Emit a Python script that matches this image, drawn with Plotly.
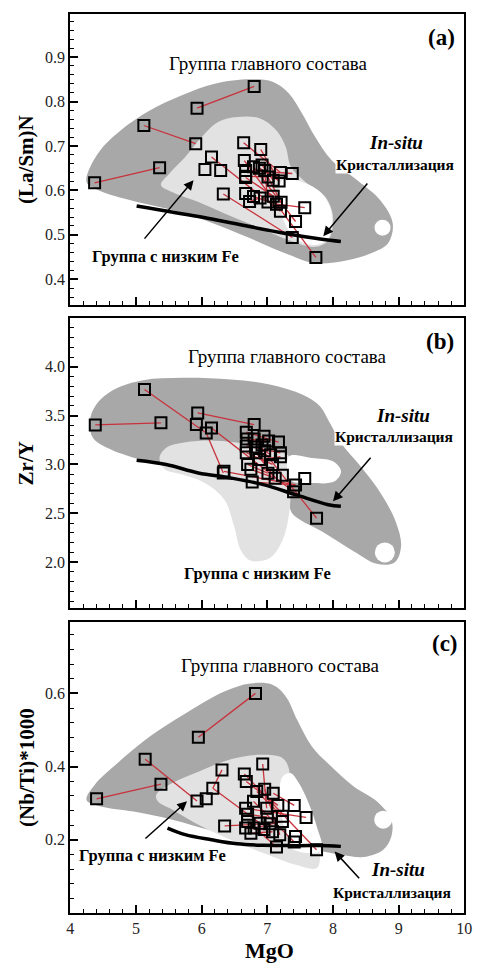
import plotly.graph_objects as go

# ---------------- data ----------------
# Panel (a): MgO vs (La/Sm)N
mgo_a = [4.37, 5.36, 5.12, 5.91, 5.93, 6.80, 6.15, 6.05, 6.29, 6.33, 6.64, 6.90, 6.65, 6.67, 6.67,
         6.79, 6.92, 6.96, 7.01, 7.09, 7.20, 7.18, 7.38, 6.67, 6.73, 6.79, 6.89, 7.01, 7.09, 7.14,
         7.21, 7.20, 7.57, 7.43, 7.38, 7.74, 6.88, 6.67]
lasm_a = [0.617, 0.651, 0.746, 0.705, 0.785, 0.834, 0.675, 0.647, 0.645, 0.592, 0.707, 0.692, 0.667,
          0.645, 0.629, 0.653, 0.657, 0.645, 0.630, 0.623, 0.640, 0.621, 0.638, 0.593, 0.575, 0.586,
          0.583, 0.574, 0.587, 0.569, 0.573, 0.553, 0.561, 0.530, 0.494, 0.449, 0.650, 0.632]
links_a = [(0, 1), (2, 3), (4, 5), (6, 31), (9, 34), (10, 20), (11, 21), (12, 35), (13, 22), (14, 28),
           (29, 32), (15, 33), (16, 19), (17, 27), (18, 30), (24, 26), (25, 29), (36, 21), (37, 18)]
trend_a_x = [5.01, 5.95, 6.44, 7.28, 7.83, 8.12]
trend_a_y = [0.565, 0.541, 0.527, 0.503, 0.490, 0.485]

# Panel (b): MgO vs Zr/Y
mgo_b = [4.38, 5.38, 5.13, 5.94, 5.92, 6.07, 6.15, 6.33, 6.80, 6.68, 6.69, 6.68, 6.68, 6.70, 6.75,
         6.77, 6.80, 6.83, 6.88, 6.95, 7.02, 7.17, 7.20, 7.20, 7.23, 7.57, 7.43, 7.40, 7.75, 7.01,
         7.12, 6.96, 7.05, 6.82, 7.08, 6.92, 6.34]
zry_b = [3.405, 3.426, 3.768, 3.528, 3.409, 3.323, 3.374, 2.913, 3.409, 3.33, 3.26, 3.19, 3.12, 3.00,
         2.95, 2.82, 3.26, 3.12, 3.05, 3.29, 3.24, 3.23, 3.12, 3.08, 2.89, 2.855, 2.79, 2.72, 2.45,
         2.91, 2.86, 3.14, 3.10, 3.18, 3.00, 3.20, 2.93]
links_b = [(0, 1), (2, 5), (3, 8), (5, 7), (6, 27), (36, 26), (9, 21), (10, 20), (11, 22), (12, 34),
           (13, 29), (16, 24), (17, 30), (24, 28), (19, 35), (31, 32), (18, 23), (14, 30), (15, 26)]
trend_b_x = [5.01, 5.46, 5.95, 6.44, 6.94, 7.43, 7.93, 8.12]
trend_b_y = [3.043, 2.999, 2.913, 2.862, 2.794, 2.691, 2.588, 2.571]

# Panel (c): MgO vs (Nb/Ti)*1000
mgo_c = [4.40, 5.38, 5.14, 5.93, 5.95, 6.82, 6.07, 6.17, 6.31, 6.35, 6.65, 6.68, 6.93, 6.84, 6.96,
         7.09, 6.67, 6.79, 6.99, 7.16, 7.41, 7.59, 7.23, 6.70, 6.75, 6.89, 7.04, 7.19, 7.43, 7.41,
         7.14, 7.75, 7.23, 6.67, 6.80, 6.95, 7.08, 6.70, 7.00]
nbti_c = [0.312, 0.352, 0.42, 0.306, 0.48, 0.60, 0.312, 0.341, 0.391, 0.238, 0.38, 0.359, 0.407, 0.332,
          0.338, 0.327, 0.286, 0.305, 0.286, 0.294, 0.294, 0.261, 0.264, 0.25, 0.218, 0.245, 0.244,
          0.214, 0.209, 0.194, 0.18, 0.173, 0.25, 0.232, 0.232, 0.228, 0.222, 0.27, 0.262]
links_c = [(0, 1), (2, 3), (4, 5), (7, 8), (7, 25), (9, 26), (10, 31), (11, 19), (12, 18), (13, 22),
           (14, 27), (15, 20), (16, 21), (17, 29), (23, 30), (24, 36), (33, 35), (34, 32), (37, 38)]
trend_c_x = [5.48, 5.75, 6.15, 6.54, 6.94, 7.43, 7.93, 8.12]
trend_c_y = [0.232, 0.214, 0.200, 0.189, 0.185, 0.184, 0.184, 0.182]

# Field outlines (MgO, ratio)
main_a = [(4.247, 0.619), (4.42, 0.683), (4.765, 0.735), (5.21, 0.780), (5.70, 0.814), (6.20, 0.840),
          (6.74, 0.850), (7.09, 0.844), (7.33, 0.818), (7.53, 0.773), (7.73, 0.720), (7.98, 0.668),
          (8.37, 0.623), (8.72, 0.578), (8.91, 0.526), (8.84, 0.481), (8.57, 0.458), (8.22, 0.443),
          (7.73, 0.436), (7.33, 0.455), (6.74, 0.492), (6.05, 0.533), (5.46, 0.559), (4.86, 0.580),
          (4.42, 0.601)]
lowfe_a = [(5.38, 0.612), (5.51, 0.638), (5.75, 0.675), (6.00, 0.720), (6.25, 0.754), (6.54, 0.765),
           (6.89, 0.762), (7.14, 0.735), (7.28, 0.698), (7.36, 0.653), (7.58, 0.619), (7.88, 0.586),
           (8.00, 0.541), (7.93, 0.488), (7.73, 0.473), (7.33, 0.488), (6.84, 0.518), (6.35, 0.548),
           (5.95, 0.574), (5.60, 0.593)]
blank_a = [(7.23, 0.623), (7.53, 0.619), (7.83, 0.593), (7.98, 0.548), (7.93, 0.492), (7.73, 0.477),
           (7.43, 0.492), (7.23, 0.541)]
hole_a = (8.755, 0.516)

main_b = [(4.296, 3.443), (4.395, 3.614), (4.667, 3.768), (5.111, 3.863), (5.704, 3.887), (6.444, 3.870),
          (7.037, 3.819), (7.531, 3.716), (7.802, 3.597), (7.951, 3.426), (8.123, 3.221), (8.420, 2.981),
          (8.741, 2.691), (8.963, 2.400), (9.037, 2.161), (8.938, 1.997), (8.667, 1.983), (8.321, 2.109),
          (7.827, 2.315), (7.383, 2.496), (7.284, 2.674), (6.444, 2.827), (5.753, 2.930), (5.062, 3.050),
          (4.568, 3.169), (4.346, 3.272)]
lowfe_b = [(5.358, 3.067), (5.457, 3.169), (5.753, 3.227), (6.198, 3.244), (6.642, 3.214), (7.185, 3.125),
           (7.333, 3.084), (7.358, 2.810), (7.333, 2.503), (7.235, 2.229), (7.037, 2.041), (6.741, 2.017),
           (6.593, 2.127), (6.494, 2.366), (6.346, 2.639), (6.049, 2.810), (5.704, 2.896), (5.432, 2.954)]
blank_b = [(7.333, 3.084), (7.679, 3.067), (8.0, 3.032), (8.123, 2.930), (8.025, 2.827), (7.679, 2.810),
           (7.358, 2.838)]
hole_b = (8.79, 2.099)

main_c = [(4.247, 0.309), (4.370, 0.350), (4.716, 0.409), (5.210, 0.482), (5.753, 0.545), (6.346, 0.605),
          (6.741, 0.627), (7.086, 0.623), (7.284, 0.591), (7.457, 0.527), (7.679, 0.455), (7.975, 0.400),
          (8.321, 0.345), (8.667, 0.305), (8.889, 0.255), (8.889, 0.209), (8.765, 0.173), (8.469, 0.153),
          (8.123, 0.159), (7.728, 0.173), (7.185, 0.191), (6.691, 0.205), (6.198, 0.223), (5.556, 0.255),
          (4.963, 0.277), (4.469, 0.291)]
lowfe_c = [(5.309, 0.323), (5.556, 0.355), (5.951, 0.386), (6.444, 0.420), (6.889, 0.432), (7.235, 0.423),
           (7.333, 0.391), (7.333, 0.345), (7.531, 0.291), (7.704, 0.227), (7.802, 0.164), (7.753, 0.123),
           (7.432, 0.132), (6.938, 0.164), (6.444, 0.200), (5.951, 0.241), (5.556, 0.282), (5.333, 0.305)]
blank_c = [(7.235, 0.373), (7.358, 0.382), (7.481, 0.355), (7.630, 0.300), (7.753, 0.236), (7.827, 0.173),
           (7.630, 0.164), (7.333, 0.182), (7.235, 0.255), (7.185, 0.327)]
hole_c = (8.765, 0.255)

x_ticks = [4, 5, 6, 7, 8, 9, 10]
y_ticks_a = [0.4, 0.5, 0.6, 0.7, 0.8, 0.9]
y_ticks_b = [2.0, 2.5, 3.0, 3.5, 4.0]
y_ticks_c = [0.2, 0.4, 0.6]

label_main = "Группа главного состава"
label_lowfe = "Группа с низким Fe"
label_insitu = "<b><i>In-situ</i></b>"
label_cryst = "<b>Кристаллизация</b>"

# ---------------- figure ----------------
W, H = 484, 964
DARK = "#a8a8a8"
LIGHT = "#e2e2e2"
RED = "#c8323c"
SERIF = "Liberation Serif, Times New Roman, DejaVu Serif, serif"

fig = go.Figure()


def add_field(pts, color, xa, ya):
    xs = [p[0] for p in pts] + [pts[0][0]]
    ys = [p[1] for p in pts] + [pts[0][1]]
    fig.add_trace(go.Scatter(x=xs, y=ys, mode="lines", fill="toself", fillcolor=color,
                             line=dict(color=color, width=0, shape="spline", smoothing=1.0),
                             hoverinfo="skip", showlegend=False, xaxis=xa, yaxis=ya))


def add_panel(xa, ya, main, lowfe, blank, hole, hole_size, mx, my, links, tx, ty):
    add_field(main, DARK, xa, ya)
    add_field(lowfe, LIGHT, xa, ya)
    add_field(blank, "white", xa, ya)
    fig.add_trace(go.Scatter(x=[hole[0]], y=[hole[1]], mode="markers",
                             marker=dict(symbol="circle", size=hole_size, color="white", line=dict(width=0)),
                             hoverinfo="skip", showlegend=False, xaxis=xa, yaxis=ya))
    lx, ly = [], []
    for i, j in links:
        lx += [mx[i], mx[j], None]
        ly += [my[i], my[j], None]
    fig.add_trace(go.Scatter(x=lx, y=ly, mode="lines", line=dict(color=RED, width=1.3),
                             hoverinfo="skip", showlegend=False, xaxis=xa, yaxis=ya))
    fig.add_trace(go.Scatter(x=tx, y=ty, mode="lines", line=dict(color="black", width=3.5, shape="spline"),
                             hoverinfo="skip", showlegend=False, xaxis=xa, yaxis=ya))
    fig.add_trace(go.Scatter(x=mx, y=my, mode="markers",
                             marker=dict(symbol="square-open", size=11, color="black", line=dict(width=2, color="black")),
                             showlegend=False, xaxis=xa, yaxis=ya))


add_panel("x", "y", main_a, lowfe_a, blank_a, hole_a, 16, mgo_a, lasm_a, links_a, trend_a_x, trend_a_y)
add_panel("x2", "y2", main_b, lowfe_b, blank_b, hole_b, 20, mgo_b, zry_b, links_b, trend_b_x, trend_b_y)
add_panel("x3", "y3", main_c, lowfe_c, blank_c, hole_c, 18, mgo_c, nbti_c, links_c, trend_c_x, trend_c_y)

xdom = [68 / W, 472 / W]
ydoms = [[1 - 305 / H, 1 - 14 / H], [1 - 608 / H, 1 - 318 / H], [1 - 913 / H, 1 - 622 / H]]
yranges = [[0.342, 0.997], [1.53, 4.5], [0.0, 0.795]]
yticks = [y_ticks_a, y_ticks_b, y_ticks_c]
yminor = [0.02, 0.1, 0.04]

tickfont = dict(family=SERIF, size=16, color="#222")
for k in range(3):
    sx = "" if k == 0 else str(k + 1)
    fig.layout["xaxis" + sx] = dict(
        domain=xdom, range=[4, 10], anchor="y" + sx, tickvals=x_ticks,
        ticktext=[str(v) for v in x_ticks], showticklabels=(k == 2),
        ticks="inside", ticklen=8, tickwidth=1.5, tickcolor="black",
        minor=dict(tickmode="linear", tick0=4, dtick=0.2, ticks="inside", ticklen=4, tickwidth=1.2, tickcolor="black"),
        showline=True, linewidth=2, linecolor="black", mirror=True, showgrid=False, zeroline=False,
        tickfont=tickfont,
    )
    fig.layout["yaxis" + sx] = dict(
        domain=ydoms[k], range=yranges[k], anchor="x" + sx, tickvals=yticks[k],
        ticktext=[f"{v:.1f}" for v in yticks[k]],
        ticks="inside", ticklen=8, tickwidth=1.5, tickcolor="black",
        minor=dict(tickmode="linear", tick0=0, dtick=yminor[k], ticks="inside", ticklen=4, tickwidth=1.2, tickcolor="black"),
        showline=True, linewidth=2, linecolor="black", mirror=True, showgrid=False, zeroline=False,
        tickfont=tickfont,
    )

ann = []


def txt(xr, yr, x, y, text, size, bold=False, bg=None):
    t = f"<b>{text}</b>" if bold else text
    d = dict(xref=xr, yref=yr, x=x, y=y, text=t, showarrow=False,
             font=dict(family=SERIF, size=size, color="black"), xanchor="center", yanchor="middle")
    if bg:
        d["bgcolor"] = bg
        d["borderpad"] = 0
    ann.append(d)


def arrow(xr, yr, x0, y0, x1, y1):
    ann.append(dict(xref=xr, yref=yr, axref=xr, ayref=yr, x=x1, y=y1, ax=x0, ay=y0, text="",
                    showarrow=True, arrowhead=2, arrowsize=1.3, arrowwidth=1.5, arrowcolor="black"))


# Panel a
txt("x", "y", 7.02, 0.885, label_main, 19)
txt("x", "y", 8.96, 0.708, label_insitu, 19)
txt("x", "y", 8.94, 0.658, label_cryst, 15.5, bg="white")
txt("x", "y", 5.447, 0.451, label_lowfe, 16.5, bold=True)
txt("x", "y", 9.654, 0.945, "(a)", 23, bold=True)
arrow("x", "y", 5.111, 0.488, 5.877, 0.623)
arrow("x", "y", 8.543, 0.619, 7.852, 0.497)
# Panel b
txt("x2", "y2", 7.309, 4.109, label_main, 19)
txt("x2", "y2", 9.07, 3.50, label_insitu, 19)
txt("x2", "y2", 8.93, 3.285, label_cryst, 15.5, bg="white")
txt("x2", "y2", 6.854, 1.887, label_lowfe, 16.5, bold=True)
txt("x2", "y2", 9.63, 4.263, "(b)", 23, bold=True)
arrow("x2", "y2", 8.593, 3.084, 8.0, 2.622)
# Panel c
txt("x3", "y3", 7.195, 0.677, label_main, 19)
txt("x3", "y3", 8.988, 0.119, label_insitu, 19)
txt("x3", "y3", 8.9, 0.056, label_cryst, 15.5)
txt("x3", "y3", 5.259, 0.156, label_lowfe, 16.5, bold=True)
txt("x3", "y3", 9.704, 0.736, "(c)", 23, bold=True)
arrow("x3", "y3", 5.121, 0.200, 5.778, 0.305)
arrow("x3", "y3", 8.42, 0.091, 8.025, 0.168)

# Axis titles
ytitles = ["(La/Sm)N", "Zr/Y", "(Nb/Ti)*1000"]
for k in range(3):
    ann.append(dict(xref="paper", yref="paper", x=23 / W, y=sum(ydoms[k]) / 2, text=f"<b>{ytitles[k]}</b>",
                    textangle=-90, showarrow=False, font=dict(family=SERIF, size=21, color="black"),
                    xanchor="center", yanchor="middle"))
ann.append(dict(xref="paper", yref="paper", x=272 / W, y=1 - 950 / H, text="<b>MgO</b>", showarrow=False,
                font=dict(family=SERIF, size=22, color="black"), xanchor="center", yanchor="middle"))

fig.update_layout(width=W, height=H, margin=dict(l=0, r=0, t=0, b=0), plot_bgcolor="white",
                  paper_bgcolor="white", showlegend=False, annotations=ann,
                  font=dict(family=SERIF))

fig.write_html("out.html", config={"displayModeBar": False},
               post_script="document.body.style.margin='0';document.body.style.padding='0';"
                           "document.documentElement.style.overflow='hidden';")
